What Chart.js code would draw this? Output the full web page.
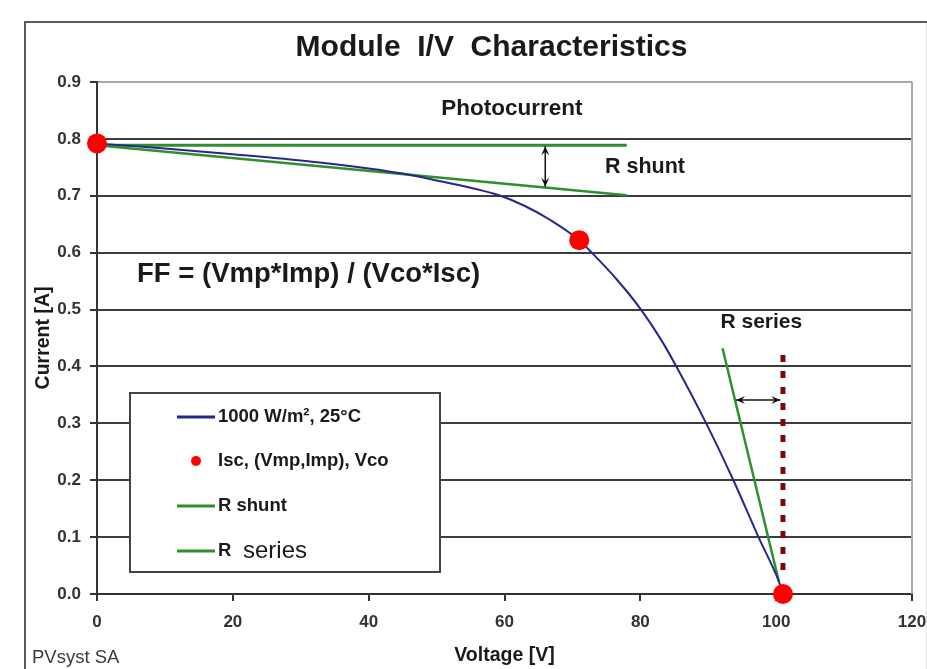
<!DOCTYPE html>
<html>
<head>
<meta charset="utf-8">
<script src="https://cdn.jsdelivr.net/npm/chart.js@4.4.1/dist/chart.umd.min.js"></script>
<style>
  html, body { margin: 0; padding: 0; background: #ffffff; }
  #wrap { position: relative; width: 927px; height: 669px; }
</style>
</head>
<body>
<div id="wrap"><canvas id="c" width="927" height="669"></canvas></div>
<script>
// ---- data ----
const chartTitle = 'Module  I/V  Characteristics';
const xTitle = 'Voltage [V]';
const yTitle = 'Current [A]';
const credit = 'PVsyst SA';

// I/V curve at 1000 W/m², 25°C
const ivVoltage = [0, 10, 20, 30, 40, 45, 50, 55, 59.4, 63, 66.8, 71, 72.6, 76.6, 80.1, 83, 85.3, 89.7, 93.7, 97.4, 100.4, 101];
const ivCurrent = [0.792, 0.783, 0.773, 0.762, 0.748, 0.739, 0.727, 0.714, 0.700, 0.682, 0.657, 0.622, 0.603, 0.552, 0.500, 0.448, 0.400, 0.300, 0.200, 0.100, 0.022, 0.0];

// Isc, (Vmp, Imp), Vco
const keyVoltage = [0, 71, 101];
const keyCurrent = [0.792, 0.622, 0.0];

// R shunt lines (photocurrent level and shunt slope)
const shuntFlatV = [0, 78];
const shuntFlatI = [0.789, 0.789];
const shuntSlopeV = [0, 78];
const shuntSlopeI = [0.789, 0.701];

// R series line
const seriesV = [92.1, 100.4];
const seriesI = [0.432, 0.022];

// Vco dotted marker
const vcoLineV = [101, 101];
const vcoLineI = [0.42, 0.035];

// arrows
const shuntArrowV = [66, 66];
const shuntArrowI = [0.787, 0.716];
const seriesArrowV = [94.1, 100.6];
const seriesArrowI = [0.341, 0.341];

const xTicks = [0, 20, 40, 60, 80, 100, 120];
const yTicks = [0, 0.1, 0.2, 0.3, 0.4, 0.5, 0.6, 0.7, 0.8, 0.9];

const legendLabels = ['1000 W/m², 25°C', 'Isc, (Vmp,Imp), Vco', 'R shunt', 'R  series'];

const notes = [
  { text: 'Photocurrent', v: 61.1, i: 0.853, align: 'center', font: 'bold 22.5px "Liberation Sans", Arial, sans-serif' },
  { text: 'R shunt', v: 74.8, i: 0.750, align: 'left', font: 'bold 21.5px "Liberation Sans", Arial, sans-serif' },
  { text: 'FF = (Vmp*Imp) / (Vco*Isc)', v: 5.9, i: 0.561, align: 'left', font: 'bold 27.5px "Liberation Sans", Arial, sans-serif' },
  { text: 'R series', v: 91.8, i: 0.478, align: 'left', font: 'bold 21px "Liberation Sans", Arial, sans-serif' }
];

const NAVY = '#26268c';
const GREEN = '#2f8f2f';
const RED = '#ff0000';
const DARKRED = '#7a0a0a';
const FONT = '"Liberation Sans", Arial, sans-serif';

const zip = (xs, ys) => xs.map((x, k) => ({ x: x, y: ys[k] }));

function arrow(ctx, x1, y1, x2, y2) {
  const ang = Math.atan2(y2 - y1, x2 - x1);
  const L = 9, W = 4;
  ctx.beginPath();
  ctx.moveTo(x1, y1); ctx.lineTo(x2, y2); ctx.stroke();
  [[x2, y2, ang], [x1, y1, ang + Math.PI]].forEach(([x, y, a]) => {
    ctx.beginPath();
    ctx.moveTo(x, y);
    ctx.lineTo(x - L * Math.cos(a) + W * Math.sin(a), y - L * Math.sin(a) - W * Math.cos(a));
    ctx.lineTo(x - L * Math.cos(a) * 0.6, y - L * Math.sin(a) * 0.6);
    ctx.lineTo(x - L * Math.cos(a) - W * Math.sin(a), y - L * Math.sin(a) + W * Math.cos(a));
    ctx.closePath();
    ctx.fill();
  });
}

const decor = {
  id: 'decor',
  beforeDraw(chart) {
    const ctx = chart.ctx;
    const a = chart.chartArea;
    ctx.save();
    ctx.fillStyle = '#ffffff';
    ctx.fillRect(0, 0, chart.width, chart.height);
    // outer frame
    ctx.strokeStyle = '#5a5a5a';
    ctx.lineWidth = 2;
    ctx.beginPath();
    ctx.moveTo(25, chart.height);
    ctx.lineTo(25, 22);
    ctx.lineTo(chart.width, 22);
    ctx.stroke();
    ctx.strokeStyle = '#e2e2e2';
    ctx.lineWidth = 1;
    ctx.beginPath();
    ctx.moveTo(926.5, 23); ctx.lineTo(926.5, chart.height);
    ctx.stroke();
    // title
    ctx.fillStyle = '#1a1a1a';
    ctx.font = 'bold 30px ' + FONT;
    ctx.textAlign = 'center';
    ctx.textBaseline = 'middle';
    ctx.fillText(chartTitle, (a.left + a.right) / 2 - 13, 48);
    // credit
    ctx.fillStyle = '#3a3a3a';
    ctx.font = '18.5px ' + FONT;
    ctx.textAlign = 'left';
    ctx.textBaseline = 'alphabetic';
    ctx.fillText(credit, 32, 663);
    ctx.restore();
  },
  beforeDatasetsDraw(chart) {
    const ctx = chart.ctx;
    const a = chart.chartArea;
    ctx.save();
    // right plot border
    ctx.strokeStyle = '#a8a8a8';
    ctx.lineWidth = 2;
    ctx.beginPath();
    ctx.moveTo(a.right, a.top); ctx.lineTo(a.right, a.bottom);
    ctx.stroke();
    ctx.restore();
  },
  afterDraw(chart) {
    const ctx = chart.ctx;
    const a = chart.chartArea;
    const xs = chart.scales.x, ys = chart.scales.y;
    ctx.save();
    // text notes
    ctx.fillStyle = '#1a1a1a';
    ctx.textBaseline = 'middle';
    notes.forEach(n => {
      ctx.font = n.font;
      ctx.textAlign = n.align;
      ctx.fillText(n.text, xs.getPixelForValue(n.v), ys.getPixelForValue(n.i));
    });
    // arrows
    ctx.strokeStyle = '#111';
    ctx.fillStyle = '#111';
    ctx.lineWidth = 1.5;
    arrow(ctx, xs.getPixelForValue(shuntArrowV[0]), ys.getPixelForValue(shuntArrowI[0]),
               xs.getPixelForValue(shuntArrowV[1]), ys.getPixelForValue(shuntArrowI[1]));
    arrow(ctx, xs.getPixelForValue(seriesArrowV[0]), ys.getPixelForValue(seriesArrowI[0]),
               xs.getPixelForValue(seriesArrowV[1]), ys.getPixelForValue(seriesArrowI[1]));

    // legend box
    const bx = a.left + 33, by = a.top + 311, bw = 310, bh = 179;
    ctx.fillStyle = '#ffffff';
    ctx.fillRect(bx, by, bw, bh);
    ctx.strokeStyle = '#444';
    ctx.lineWidth = 2;
    ctx.strokeRect(bx, by, bw, bh);
    const sampleX0 = bx + 47, sampleX1 = bx + 85, textX = bx + 88;
    const rows = [by + 24, by + 68, by + 113, by + 158];
    const ds = chart.data.datasets;
    const legendDs = [ds[1], ds[0], ds[2], ds[4]];
    legendDs.forEach((d, k) => {
      const y = rows[k];
      if (d.showLine === false) {
        ctx.fillStyle = d.backgroundColor;
        ctx.beginPath();
        ctx.arc((sampleX0 + sampleX1) / 2, y, 5, 0, Math.PI * 2);
        ctx.fill();
      } else {
        ctx.strokeStyle = d.borderColor;
        ctx.lineWidth = 3;
        ctx.beginPath();
        ctx.moveTo(sampleX0, y); ctx.lineTo(sampleX1, y);
        ctx.stroke();
      }
      ctx.fillStyle = '#1a1a1a';
      ctx.textAlign = 'left';
      ctx.textBaseline = 'middle';
      const lbl = d.label;
      if (lbl.indexOf('R  ') === 0) {
        ctx.font = 'bold 18.5px ' + FONT;
        ctx.fillText('R', textX, y);
        ctx.font = '24px ' + FONT;
        ctx.fillText(lbl.slice(3), textX + 25, y);
      } else {
        ctx.font = 'bold 18.5px ' + FONT;
        ctx.fillText(lbl, textX, y);
      }
    });
    ctx.restore();
  }
};

new Chart(document.getElementById('c'), {
  type: 'scatter',
  data: {
    datasets: [
      { label: legendLabels[1], data: zip(keyVoltage, keyCurrent), showLine: false,
        pointRadius: 10, pointHoverRadius: 10, backgroundColor: RED, borderColor: RED, borderWidth: 0, clip: false },
      { label: legendLabels[0], data: zip(ivVoltage, ivCurrent), showLine: true,
        borderColor: NAVY, borderWidth: 2, pointRadius: 0, cubicInterpolationMode: 'monotone' },
      { label: legendLabels[2], data: zip(shuntFlatV, shuntFlatI), showLine: true,
        borderColor: GREEN, borderWidth: 3, pointRadius: 0 },
      { label: 'R shunt slope', data: zip(shuntSlopeV, shuntSlopeI), showLine: true,
        borderColor: GREEN, borderWidth: 2.5, pointRadius: 0 },
      { label: legendLabels[3], data: zip(seriesV, seriesI), showLine: true,
        borderColor: GREEN, borderWidth: 2.5, pointRadius: 0 },
      { label: 'Vco', data: zip(vcoLineV, vcoLineI), showLine: true,
        borderColor: DARKRED, borderWidth: 5, borderDash: [7, 9], borderCapStyle: 'butt', pointRadius: 0 }
    ]
  },
  options: {
    responsive: false,
    animation: false,
    events: [],
    layout: { padding: { left: 25, top: 82, right: 15, bottom: 0 } },
    plugins: { legend: { display: false }, title: { display: false }, tooltip: { enabled: false } },
    scales: {
      x: {
        type: 'linear', min: 0, max: 120,
        afterBuildTicks: s => { s.ticks = xTicks.map(v => ({ value: v })); },
        afterFit: s => { s.height = 75; s.paddingLeft = 0; s.paddingRight = 0; },
        grid: { drawOnChartArea: false, drawTicks: true, tickLength: 7, tickColor: '#333', lineWidth: 2 },
        border: { display: true, color: '#333', width: 2 },
        ticks: { padding: 11, color: '#333', font: { family: FONT, size: 17, weight: 'bold' }, maxRotation: 0 },
        title: { display: true, text: xTitle, color: '#1a1a1a', font: { family: FONT, size: 19.5, weight: 'bold' }, padding: { top: 0, bottom: 2 } }
      },
      y: {
        type: 'linear', min: 0, max: 0.9,
        afterBuildTicks: s => { s.ticks = yTicks.map(v => ({ value: v })); },
        afterFit: s => { s.width = 72; s.paddingTop = 0; s.paddingBottom = 0; },
        grid: { drawTicks: true, tickLength: 7, lineWidth: 2, tickColor: '#333',
                color: c => (c.tick && Math.abs(c.tick.value - 0.9) < 1e-6) ? '#a8a8a8' : '#3c3c3c' },
        border: { display: true, color: '#333', width: 2 },
        ticks: { padding: 9, color: '#333', font: { family: FONT, size: 17, weight: 'bold' },
                 callback: v => Number(v).toFixed(1) },
        title: { display: true, text: yTitle, color: '#1a1a1a', font: { family: FONT, size: 19.5, weight: 'bold' }, padding: { top: 7, bottom: 0 } }
      }
    }
  },
  plugins: [decor]
});
</script>
</body>
</html>
